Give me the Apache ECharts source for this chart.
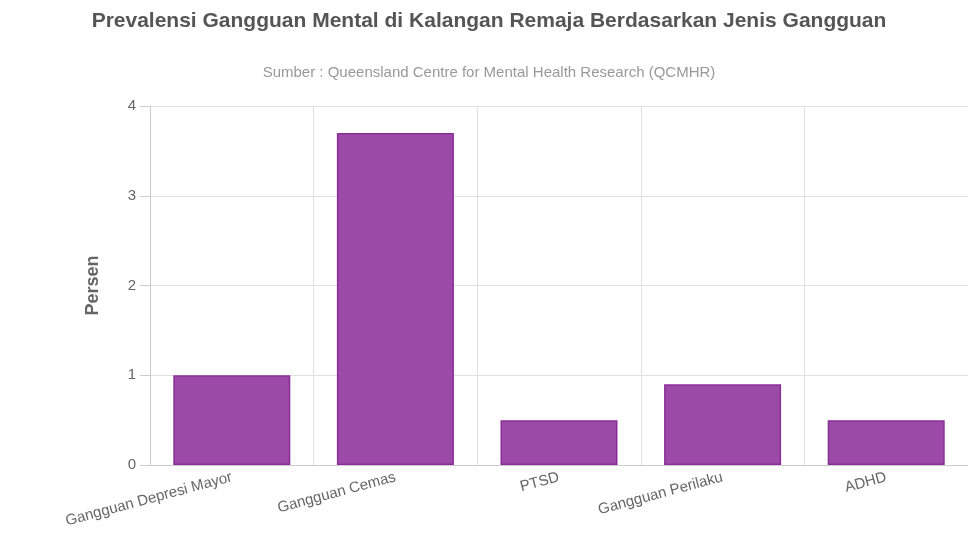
<!DOCTYPE html>
<html>
<head>
<meta charset="utf-8">
<script src="https://cdn.jsdelivr.net/npm/echarts@6/dist/echarts.min.js"></script>
<style>html,body{margin:0;padding:0;background:#fff}#c{width:968px;height:543px}</style>
</head>
<body>
<div id="c"></div>
<script>
// data
var categories = ['Gangguan Depresi Mayor', 'Gangguan Cemas', 'PTSD', 'Gangguan Perilaku', 'ADHD'];
var persen = [1.0, 3.7, 0.5, 0.9, 0.5];

var chart = echarts.init(document.getElementById('c'));
chart.setOption({
  animation: false,
  textStyle: { fontFamily: 'Arial, Liberation Sans, sans-serif' },
  title: [{
    text: 'Prevalensi Gangguan Mental di Kalangan Remaja Berdasarkan Jenis Gangguan',
    left: 484, top: 6, textAlign: 'center',
    textStyle: { fontSize: 21, fontWeight: 'bold', color: '#555' }
  }, {
    text: 'Sumber : Queensland Centre for Mental Health Research (QCMHR)',
    left: 484, top: 60, textAlign: 'center',
    textStyle: { fontSize: 15, fontWeight: 'normal', color: '#999' }
  }],
  grid: { left: 150, right: 0, top: 106, bottom: 78 },
  xAxis: {
    type: 'category',
    data: categories,
    axisLine: { lineStyle: { color: '#ccc' } },
    axisTick: { show: false },
    splitLine: { show: true, lineStyle: { color: '#e0e0e0' } },
    axisLabel: { rotate: 15, color: '#666', fontSize: 15, margin: 12, interval: 0 }
  },
  yAxis: {
    type: 'value',
    min: 0, max: 4, interval: 1,
    name: 'Persen',
    nameLocation: 'middle',
    nameGap: 48,
    nameTextStyle: { fontSize: 18, fontWeight: 'bold', color: '#666' },
    axisLine: { show: true, lineStyle: { color: '#ccc' } },
    axisTick: { show: true, length: 10, lineStyle: { color: '#ccc' } },
    splitLine: { lineStyle: { color: '#e0e0e0' } },
    axisLabel: { color: '#666', fontSize: 15, margin: 14 }
  },
  series: [{
    type: 'bar',
    data: persen,
    barWidth: 117,
    itemStyle: { color: '#9c4aa8', borderColor: '#8a2d99', borderWidth: 1.5 }
  }]
});
</script>
</body>
</html>
